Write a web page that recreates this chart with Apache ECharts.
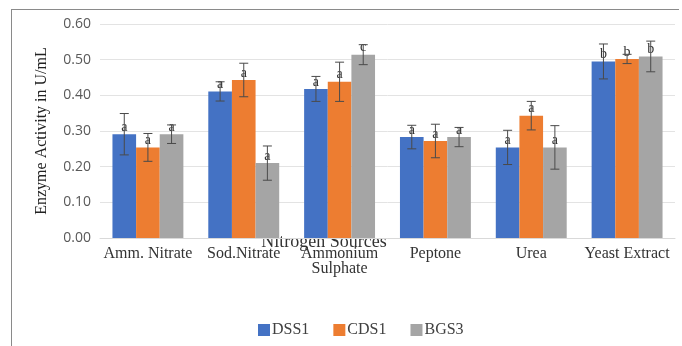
<!DOCTYPE html>
<html>
<head>
<meta charset="utf-8">
<script src="https://cdn.jsdelivr.net/npm/echarts@6/dist/echarts.min.js"></script>
<style>
  html, body { margin: 0; padding: 0; background: #fff; }
  #chart { width: 682px; height: 346px; }
</style>
</head>
<body>
<div id="chart"></div>
<script>
// Nitrogen sources tested
const categories = ['Amm. Nitrate', 'Sod.Nitrate', 'Ammonium\nSulphate', 'Peptone', 'Urea', 'Yeast Extract'];
const seriesNames = ['DSS1', 'CDS1', 'BGS3'];
const colors = ['#4472C4', '#ED7D31', '#A5A5A5'];

// Mean enzyme activity (U/mL)
const dss1 = [0.291, 0.411, 0.418, 0.283, 0.254, 0.495];
const cds1 = [0.254, 0.443, 0.438, 0.272, 0.343, 0.502];
const bgs3 = [0.291, 0.210, 0.514, 0.283, 0.254, 0.509];

// Standard deviation
const dss1Err = [0.058, 0.027, 0.035, 0.033, 0.048, 0.049];
const cds1Err = [0.039, 0.047, 0.055, 0.047, 0.040, 0.013];
const bgs3Err = [0.026, 0.048, 0.028, 0.027, 0.061, 0.043];

// Significance letters
const dss1Sig = ['a', 'a', 'a', 'a', 'a', 'b'];
const cds1Sig = ['a', 'a', 'a', 'a', 'a', 'b'];
const bgs3Sig = ['a', 'a', 'c', 'a', 'a', 'b'];

const yTicks = [0, 0.1, 0.2, 0.3, 0.4, 0.5, 0.6];

const values = [dss1, cds1, bgs3];
const errors = [dss1Err, cds1Err, bgs3Err];
const letters = [dss1Sig, cds1Sig, bgs3Sig];

const serif = '"Liberation Serif", "DejaVu Serif", serif';
const sans = '"Open Sans", "Noto Sans", sans-serif';
const CAT_GAP = 0.26;

const chart = echarts.init(document.getElementById('chart'), null, { renderer: 'canvas' });

const barSeries = seriesNames.map((name, s) => ({
  name: name,
  type: 'bar',
  data: values[s],
  barGap: '0%',
  barCategoryGap: (CAT_GAP * 100) + '%',
  itemStyle: { color: colors[s] },
  z: 2,
  label: {
    show: true,
    position: 'top',
    distance: 0,
    fontFamily: serif,
    fontSize: 14,
    color: '#333',
    formatter: p => letters[s][p.dataIndex]
  }
}));

const errorSeries = seriesNames.map((name, s) => ({
  type: 'custom',
  name: name + ' error',
  z: 4,
  silent: true,
  data: values[s].map((v, i) => [i, v - errors[s][i], v + errors[s][i]]),
  renderItem: function (params, api) {
    const idx = api.value(0);
    const lo = api.coord([idx, api.value(1)]);
    const hi = api.coord([idx, api.value(2)]);
    const band = api.size([1, 0])[0];
    const bw = band * (1 - CAT_GAP) / 3;
    const x = lo[0] + (s - 1) * bw;
    const cap = 4.5;
    const style = { stroke: '#4a4a4a', lineWidth: 1 };
    return {
      type: 'group',
      children: [
        { type: 'line', shape: { x1: x, y1: hi[1], x2: x, y2: lo[1] }, style: style },
        { type: 'line', shape: { x1: x - cap, y1: hi[1], x2: x + cap, y2: hi[1] }, style: style },
        { type: 'line', shape: { x1: x - cap, y1: lo[1], x2: x + cap, y2: lo[1] }, style: style }
      ]
    };
  }
}));

chart.setOption({
  animation: false,
  backgroundColor: '#fff',
  color: colors,
  grid: { left: 100, right: 7, top: 24, bottom: 108 },
  legend: {
    data: seriesNames,
    bottom: 3,
    left: 253,
    itemWidth: 12,
    itemHeight: 12,
    itemGap: 24,
    icon: 'rect',
    textStyle: { fontFamily: serif, fontSize: 16, color: '#404040', padding: [0, 0, 0, -3] }
  },
  xAxis: {
    type: 'category',
    data: categories,
    axisTick: { show: false },
    axisLine: { lineStyle: { color: '#d9d9d9' } },
    axisLabel: {
      interval: 0,
      margin: 8,
      fontFamily: serif,
      fontSize: 16,
      color: '#333',
      lineHeight: 15
    }
  },
  yAxis: {
    type: 'value',
    min: yTicks[0],
    max: yTicks[yTicks.length - 1],
    interval: 0.1,
    name: 'Enzyme Activity in U/mL',
    nameLocation: 'middle',
    nameGap: 50,
    nameRotate: 90,
    nameTextStyle: { fontFamily: serif, fontSize: 16, color: '#222' },
    axisLine: { show: false },
    axisTick: { show: false },
    splitLine: { lineStyle: { color: '#e3e3e3' } },
    axisLabel: {
      margin: 9,
      fontFamily: sans,
      fontSize: 14,
      color: '#595959',
      formatter: v => v.toFixed(2)
    }
  },
  graphic: [
    // chart frame (top and left edges)
    { type: 'line', z: 0, shape: { x1: 11, y1: 9.5, x2: 679, y2: 9.5 }, style: { stroke: '#8a8a8a', lineWidth: 1 } },
    { type: 'line', z: 0, shape: { x1: 11.5, y1: 9, x2: 11.5, y2: 346 }, style: { stroke: '#8a8a8a', lineWidth: 1 } },
    {
      type: 'text',
      z: 0,
      x: 324,
      y: 242,
      style: {
        text: 'Nitrogen Sources',
        font: '18px ' + serif,
        fill: '#333',
        align: 'center',
        verticalAlign: 'middle'
      }
    }
  ],
  series: barSeries.concat(errorSeries)
});
</script>
</body>
</html>
